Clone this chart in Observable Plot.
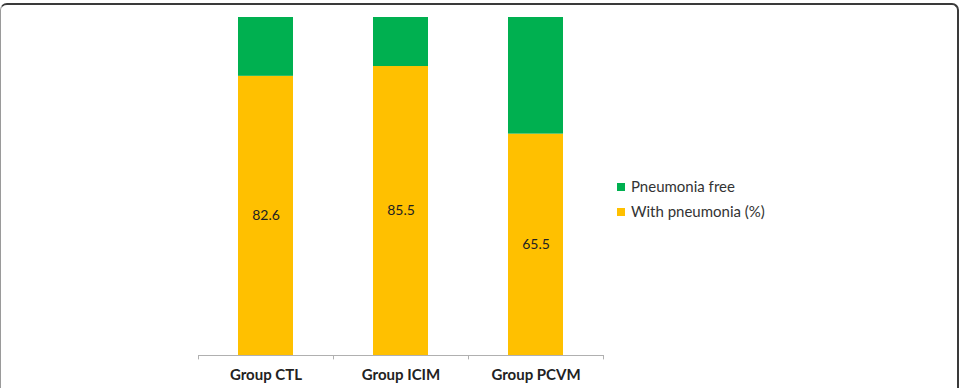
<!DOCTYPE html>
<html>
<head>
<meta charset="utf-8">
<script src="https://cdn.jsdelivr.net/npm/d3@7"></script>
<script src="https://cdn.jsdelivr.net/npm/@observablehq/plot@0.6"></script>
<style>
  html, body { margin: 0; padding: 0; background: #fff; }
  #wrap { position: relative; width: 967px; height: 388px; overflow: hidden; font-family: Lato, "Open Sans", sans-serif; }
  #frame {
    position: absolute; left: 0; top: 3px; width: 959px; height: 420px;
    border-top: 2px solid #3a3a3a; border-right: 2px solid #3a3a3a; border-left: 1px solid #9a9a9a;
    border-top-left-radius: 7px; border-top-right-radius: 7px; box-sizing: border-box;
  }
  #legend { position: absolute; left: 617px; top: 174px; font-size: 15px; color: #333; line-height: 25px; }
  #legend .item { display: flex; align-items: center; }
  #legend .sw { width: 8px; height: 8px; margin-right: 6px; }
  #chart { position: absolute; left: 0; top: 0; }
</style>
</head>
<body>
<div id="wrap">
  <div id="frame"></div>
  <div id="chart"></div>
  <div id="legend"></div>
</div>
<script>
// Categories and series
const groups = ["Group CTL", "Group ICIM", "Group PCVM"];
const withPneumonia = [82.6, 85.5, 65.5];
const pneumoniaFree = [17.4, 14.5, 34.5];
const seriesNames = ["With pneumonia (%)", "Pneumonia free"];
const seriesColors = ["#FFC000", "#00B050"];

const rows = [];
groups.forEach((g, i) => {
  rows.push({group: g, series: seriesNames[0], value: withPneumonia[i]});
  rows.push({group: g, series: seriesNames[1], value: pneumoniaFree[i]});
});
const labelRows = rows.filter(d => d.series === seriesNames[0]);

const W = 967, H = 388;
const mL = 198, mR = 364;
const step = (W - mL - mR) / groups.length;

const chart = Plot.plot({
  width: W,
  height: H,
  marginTop: 17,
  marginBottom: 33,
  marginLeft: mL,
  marginRight: mR,
  style: {fontFamily: "Lato, 'Open Sans', sans-serif", background: "transparent"},
  x: {domain: groups, padding: 0, axis: null},
  y: {domain: [0, 100], axis: null},
  color: {domain: seriesNames, range: seriesColors},
  marks: [
    Plot.barY(rows, {x: "group", y: "value", fill: "series", insetLeft: 40, insetRight: 40}),
    Plot.text(labelRows, {x: "group", y: d => d.value / 2, text: d => d.value.toFixed(1), fontSize: 14, fill: "#222"}),
    // baseline
    Plot.ruleY([0], {stroke: "#b0b0b0", strokeWidth: 1}),
    // tick marks at the category boundaries
    Plot.ruleX(groups, {x: d => d, dx: -step / 2, y1: 0, y2: -1.3, stroke: "#b0b0b0"}),
    Plot.ruleX(groups.slice(-1), {x: d => d, dx: step / 2, y1: 0, y2: -1.3, stroke: "#b0b0b0"}),
    // category labels
    Plot.axisX({tickSize: 0, tickPadding: 14, fontSize: 15, fontWeight: "bold", fill: "#222", label: null})
  ]
});
document.getElementById("chart").appendChild(chart);

// legend, top entry first (stack order reversed)
const legend = document.getElementById("legend");
[1, 0].forEach(i => {
  const item = document.createElement("div");
  item.className = "item";
  const sw = document.createElement("span");
  sw.className = "sw";
  sw.style.background = seriesColors[i];
  const t = document.createElement("span");
  t.textContent = seriesNames[i];
  item.appendChild(sw);
  item.appendChild(t);
  legend.appendChild(item);
});
</script>
</body>
</html>
